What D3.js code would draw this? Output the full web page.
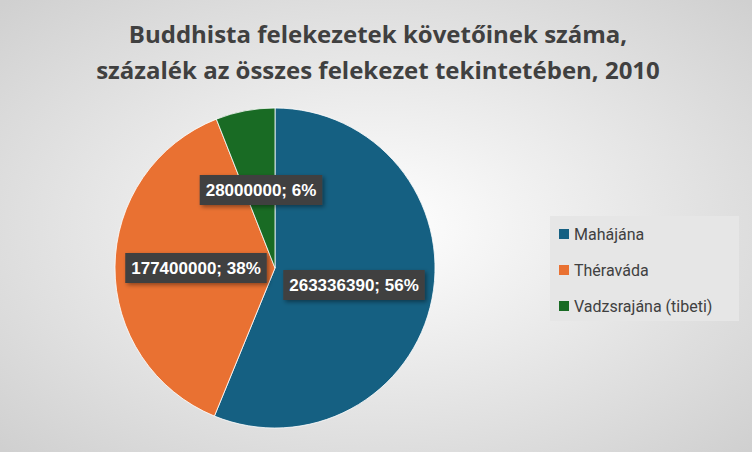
<!DOCTYPE html>
<html><head><meta charset="utf-8">
<script src="https://cdn.jsdelivr.net/npm/d3@7"></script>
<style>body{margin:0;}svg{display:block;}</style>
</head><body>
<svg id="chart" width="752" height="452"></svg>
<script>
const categories = ["Mahájána", "Théraváda", "Vadzsrajána (tibeti)"];
const values = [263336390, 177400000, 28000000];
const percents = ["56%", "38%", "6%"];
const colors = ["#156082", "#E97132", "#196B24"];
const titleLines = ["Buddhista felekezetek követőinek száma,", "százalék az összes felekezet tekintetében, 2010"];

const svg = d3.select("#chart");
const defs = svg.append("defs");
const grad = defs.append("radialGradient").attr("id", "bg").attr("cx", "50%").attr("cy", "50%").attr("r", "70%");
grad.append("stop").attr("offset", "0%").attr("stop-color", "#ffffff");
grad.append("stop").attr("offset", "100%").attr("stop-color", "#d0d0d0");
svg.append("rect").attr("width", 752).attr("height", 452).attr("fill", "url(#bg)");

const shadow = defs.append("filter").attr("id", "sh").attr("x", "-20%").attr("y", "-20%").attr("width", "150%").attr("height", "150%");
shadow.append("feDropShadow").attr("dx", 2).attr("dy", 2).attr("stdDeviation", 2).attr("flood-opacity", 0.4);

svg.selectAll(".title").data(titleLines).enter().append("text")
  .attr("x", 378).attr("y", (d, i) => 43 + i * 36)
  .attr("text-anchor", "middle")
  .attr("font-family", "Open Sans, sans-serif").attr("font-weight", "bold").attr("font-size", 24)
  .attr("fill", "#404040").text(d => d);

const cx = 275, cy = 268, r = 160;
const pie = d3.pie().sort(null)(values);
const arc = d3.arc().innerRadius(0).outerRadius(r);
const g = svg.append("g").attr("transform", `translate(${cx},${cy})`);
g.selectAll("path").data(pie).enter().append("path")
  .attr("d", arc).attr("fill", (d, i) => colors[i])
  .attr("stroke", "#ffffff").attr("stroke-width", 0.8);

// label box centres, relative to pie centre
const labelPos = [[79, 17], [-79, 0], [-14, -78]];
pie.forEach((d, i) => {
  const [x, y] = labelPos[i];
  const txt = d3.format("d")(values[i]) + "; " + percents[i];
  const lg = g.append("g").attr("transform", `translate(${x},${y})`);
  const t = lg.append("text").attr("text-anchor", "middle").attr("dy", "0.35em")
    .attr("font-family", "Liberation Sans, Arial, sans-serif").attr("font-weight", "bold").attr("font-size", 17)
    .attr("fill", "#ffffff").text(txt);
  const bb = t.node().getBBox();
  lg.insert("rect", "text").attr("x", bb.x - 6).attr("y", -15).attr("width", bb.width + 12).attr("height", 30)
    .attr("fill", "#404040").attr("filter", "url(#sh)");
});

const legend = svg.append("g");
legend.append("rect").attr("x", 550).attr("y", 216).attr("width", 189).attr("height", 105).attr("fill", "#e6e6e6");
categories.forEach((c, i) => {
  const y = 234 + i * 36;
  legend.append("rect").attr("x", 559).attr("y", y - 5).attr("width", 10).attr("height", 10).attr("fill", colors[i]);
  legend.append("text").attr("x", 574).attr("y", y).attr("dy", "0.35em")
    .attr("font-family", "Roboto, sans-serif").attr("font-size", 16).attr("fill", "#404040").text(c);
});
</script>
</body></html>
